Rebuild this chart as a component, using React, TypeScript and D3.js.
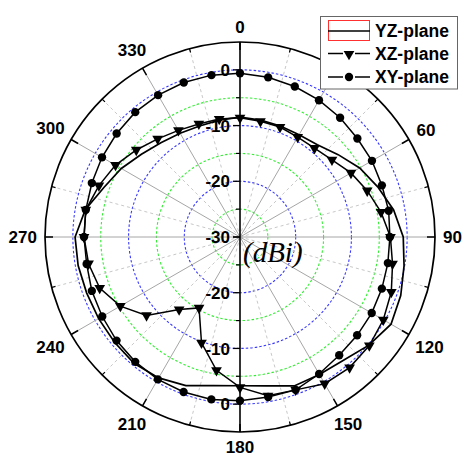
import React from 'react';
import * as d3 from 'd3';

const angles = [0, 10, 20, 30, 40, 50, 60, 70, 80, 90, 100, 110, 120, 130, 140, 150, 160, 170,
  180, 190, 200, 210, 220, 230, 240, 250, 260, 270, 280, 290, 300, 310, 320, 330, 340, 350];

const yzPlane = [-8.5, -8.7, -8.8, -8.8, -8.4, -7.0, -5.2, -3.7, -2.0, -0.7, -0.1, 0.7, 1.3, 0.2, -1.1, -1.5, -1.55, -2.85,
  -3.3, -2.9, -1.6, -0.8, -0.4, -0.6, -0.7, -0.7, -0.5, -0.4, -1.8, -4.0, -5.4, -6.9, -7.9, -8.5, -8.8, -8.7];

const xzPlane = [-8.6, -8.9, -9.0, -9.3, -9.2, -8.45, -7.0, -5.7, -4.3, -3.0, -2.2, -1.1, -0.3, 0.3, 0.6, 0.4, -0.8, -1.05,
  -3.0, -5.7, -9.8, -15.3, -13.0, -8.1, -5.2, -3.2, -2.4, -2.0, -1.9, -3.05, -4.2, -5.7, -7.0, -7.9, -8.4, -8.5];

const xyPlane = [-0.6, -0.9, -1.25, -1.65, -2.05, -2.5, -2.65, -2.9, -2.9, -3.1, -3.05, -2.9, -2.7, -2.55, -2.3, -1.6, -0.8, -0.85,
  -0.6, -0.4, -0.4, -0.5, -0.75, -1.07, -1.45, -1.7, -2.05, -2.0, -1.9, -1.7, -1.4, -1.1, -0.75, -0.6, -0.5, -0.5];

const angleTicks = [0, 30, 60, 90, 120, 150, 180, 210, 240, 270, 300, 330];
const minorAngles = [15, 45, 75, 105, 135, 165, 195, 225, 255, 285, 315, 345];
const radialMajor = [0, -10, -20, -30];
const radialMinor = [-5, -15, -25];
const gridLevels = [-25, -20, -15, -10, -5, 0];
const legendNames = ['YZ-plane', 'XZ-plane', 'XY-plane'];

const FONT = '"Liberation Sans", Arial, sans-serif';

export default function App() {
  const W = 466, H = 465;
  const cx = 240, cy = 237;
  const r = d3.scaleLinear().domain([-30, 5]).range([0, 195]);
  const R = r(5);
  const rad = (deg: number) => (deg * Math.PI) / 180;
  const pt = (deg: number, rr: number): [number, number] => [cx + rr * Math.sin(rad(deg)), cy - rr * Math.cos(rad(deg))];

  const lineGen = d3.lineRadial<[number, number]>()
    .angle(d => rad(d[0]))
    .radius(d => r(d[1]))
    .curve(d3.curveLinearClosed);

  const yzData = angles.map((a, i) => [a, yzPlane[i]] as [number, number]);
  const xzData = angles.map((a, i) => [a, xzPlane[i]] as [number, number]);
  const xyData = angles.map((a, i) => [a, xyPlane[i]] as [number, number]);

  const tri = d3.symbol().type(d3.symbolTriangle).size(50)()!;
  const dot = d3.symbol().type(d3.symbolCircle).size(55)()!;

  const labelPos = (deg: number, txt: string) => {
    const w = txt.length * 9.5;
    const h = 14;
    const ux = Math.sin(rad(deg)), uy = -Math.cos(rad(deg));
    const d = 203 + Math.abs(ux) * w / 2 + Math.abs(uy) * h / 2;
    return [cx + d * ux, cy + d * uy];
  };

  return (
    <svg width={W} height={H} style={{ position: 'absolute', left: 0, top: 0, background: '#fff' }}>
      <rect x={0} y={0} width={W} height={H} fill="#fff" />
      {gridLevels.map(g => (
        <circle key={g} cx={cx} cy={cy} r={r(g)} fill="none"
          stroke={g % 10 === 0 ? '#3a3aff' : '#33ee33'} strokeWidth={1.1} strokeDasharray="2.5,2" />
      ))}
      {minorAngles.map(a => {
        const [x, y] = pt(a, R);
        return <line key={'m' + a} x1={cx} y1={cy} x2={x} y2={y} stroke="#c8c8c8" strokeWidth={1} strokeDasharray="3,3" />;
      })}
      {angleTicks.filter(a => a % 180 !== 0).map(a => {
        const [x, y] = pt(a, R);
        return <line key={'M' + a} x1={cx} y1={cy} x2={x} y2={y} stroke="#a6a6a6" strokeWidth={1} />;
      })}
      <line x1={cx} y1={cy - R} x2={cx} y2={cy + R} stroke="#000" strokeWidth={1.6} />
      {[-1, 1].map(s => (
        <g key={'ax' + s}>
          {radialMajor.map(v => (
            <line key={v} x1={cx - 7} x2={cx} y1={cy + s * r(v)} y2={cy + s * r(v)} stroke="#000" strokeWidth={1.3} />
          ))}
          {radialMinor.map(v => (
            <line key={v} x1={cx - 4} x2={cx} y1={cy + s * r(v)} y2={cy + s * r(v)} stroke="#000" strokeWidth={1.2} />
          ))}
          {radialMajor.filter(v => !(s === 1 && v === -30)).map(v => (
            <text key={'t' + v} x={cx - 10} y={cy + s * r(v)} dy="0.36em" textAnchor="end"
              fontFamily={FONT} fontWeight="bold" fontSize={17} fill="#000">{v}</text>
          ))}
        </g>
      ))}
      <path d={lineGen(yzData)!} transform={`translate(${cx},${cy})`} fill="none" stroke="#000" strokeWidth={1.7} />
      <path d={lineGen(xzData)!} transform={`translate(${cx},${cy})`} fill="none" stroke="#000" strokeWidth={1.5} />
      <path d={lineGen(xyData)!} transform={`translate(${cx},${cy})`} fill="none" stroke="#000" strokeWidth={1.5} />
      {xzData.map(([a, v]) => {
        const [x, y] = pt(a, r(v));
        return <path key={'tz' + a} d={tri} transform={`translate(${x},${y}) rotate(180)`} fill="#000" />;
      })}
      {xyData.map(([a, v]) => {
        const [x, y] = pt(a, r(v));
        return <path key={'dy' + a} d={dot} transform={`translate(${x},${y})`} fill="#000" />;
      })}
      <circle cx={cx} cy={cy} r={R} fill="none" stroke="#000" strokeWidth={1.7} />
      {angleTicks.map(a => {
        const [x1, y1] = pt(a, R - 8);
        const [x2, y2] = pt(a, R);
        return <line key={'tk' + a} x1={x1} y1={y1} x2={x2} y2={y2} stroke="#000" strokeWidth={1.5} />;
      })}
      {minorAngles.map(a => {
        const [x1, y1] = pt(a, R - 4);
        const [x2, y2] = pt(a, R);
        return <line key={'tm' + a} x1={x1} y1={y1} x2={x2} y2={y2} stroke="#000" strokeWidth={1.2} />;
      })}
      {angleTicks.map(a => {
        const [x, y] = labelPos(a, String(a));
        return (
          <text key={'al' + a} x={x} y={y} dy="0.36em" textAnchor="middle"
            fontFamily={FONT} fontWeight="bold" fontSize={17} fill="#000">{a}</text>
        );
      })}
      <text x={243} y={262} fontFamily='"Liberation Serif", "Times New Roman", serif' fontStyle="italic"
        fontSize={29} fill="#000">(dBi)</text>
      <g>
        <rect x={320.5} y={16.5} width={137} height={72.5} fill="#fff" stroke="#666" strokeWidth={1} />
        <rect x={328.5} y={20.5} width={41} height={20} fill="none" stroke="#ff3030" strokeWidth={1} />
        <line x1={328} x2={370} y1={31} y2={31} stroke="#000" strokeWidth={1.6} />
        <line x1={328} x2={343} y1={53.5} y2={53.5} stroke="#000" strokeWidth={1.5} />
        <line x1={355} x2={370} y1={53.5} y2={53.5} stroke="#000" strokeWidth={1.5} />
        <path d={tri} transform={`translate(349,54) rotate(180)`} fill="#000" />
        <line x1={328} x2={343} y1={77} y2={77} stroke="#000" strokeWidth={1.5} />
        <line x1={355} x2={370} y1={77} y2={77} stroke="#000" strokeWidth={1.5} />
        <path d={dot} transform={`translate(349,77)`} fill="#000" />
        {legendNames.map((n, i) => (
          <text key={n} x={375} y={37 + i * 23} fontFamily={FONT} fontWeight="bold" fontSize={17.5} fill="#000">{n}</text>
        ))}
      </g>
    </svg>
  );
}
